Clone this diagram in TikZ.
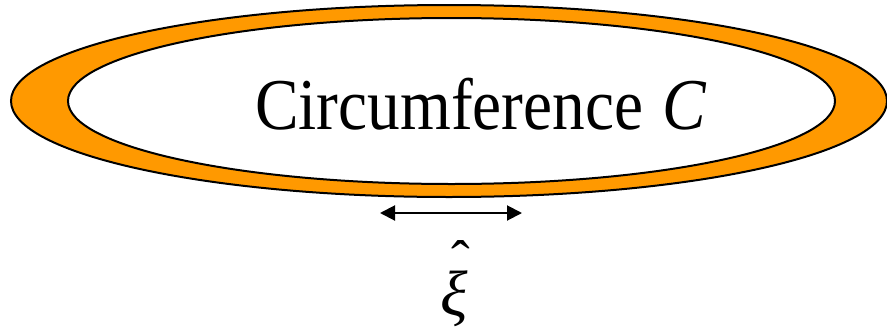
\documentclass[tikz,border=0pt]{standalone}
\usepackage{fontspec}
\setmainfont{Liberation Serif}
\usetikzlibrary{shapes.geometric,arrows.meta}
\definecolor{ringorange}{RGB}{255,153,0}
\tikzset{
  ring/.style={ellipse, draw=black, line width=2pt, inner sep=0pt, outer sep=0pt},
  span/.style={line width=2pt, {Triangle[length=15pt,width=15pt]}-{Triangle[length=15pt,width=15pt]}}
}
\begin{document}
\begin{tikzpicture}[x=1pt,y=-1pt]
\useasboundingbox (0,0) rectangle (887,330);
\node[ring, fill=ringorange, minimum width=876pt, minimum height=192pt] (outer) at (449,101) {};
\node[ring, fill=white, minimum width=767pt, minimum height=166pt] (inner) at (451.5,101) {};
\node[anchor=base west, inner sep=0pt] (label) at (255,129)
  {\scalebox{0.895}[1]{\fontsize{73}{80}\selectfont Circumference\hspace{0.3em}\textit{C}}};
\coordinate (al) at (380,213);
\coordinate (ar) at (522,213);
\draw[span] (al) -- (ar);
\node[inner sep=0pt, align=center, anchor=base] (xi) at (454,315)
  {\fontsize{56}{56}\selectfont\hspace{0.25em}ˆ\\[-10pt]\fontsize{64}{64}\selectfont\itshape ξ};
\end{tikzpicture}
\end{document}
